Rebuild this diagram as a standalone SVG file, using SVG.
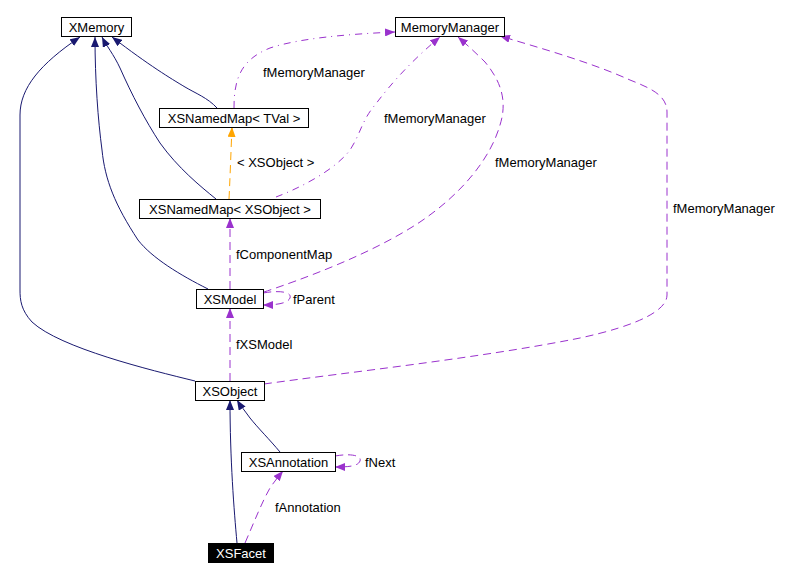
<svg xmlns="http://www.w3.org/2000/svg" width="788" height="580" viewBox="0 0 788 580">
<defs>
<style>
.node rect{fill:#fff;stroke:#000;stroke-width:1}
.node text{font-family:"Liberation Sans",Arial,sans-serif;font-size:13px;fill:#000;text-anchor:middle}
.lbl{font-family:"Liberation Sans",Arial,sans-serif;font-size:13px;fill:#000}
.inh{fill:none;stroke:#191970;stroke-width:1}
.use{fill:none;stroke:#9a32cd;stroke-width:1;stroke-dasharray:8,5}
.usec{fill:none;stroke:#9a32cd;stroke-width:1;stroke-dasharray:7,5,1,5}
.tpl{fill:none;stroke:#ffa500;stroke-width:1;stroke-dasharray:8,5}
</style>
<marker id="aN" viewBox="0 0 10 8" refX="10" refY="4" markerWidth="10" markerHeight="8" markerUnits="userSpaceOnUse" orient="auto"><path d="M0,0L10,4L0,8z" fill="#191970"/></marker>
<marker id="aP" viewBox="0 0 10 8" refX="10" refY="4" markerWidth="10" markerHeight="8" markerUnits="userSpaceOnUse" orient="auto"><path d="M0,0L10,4L0,8z" fill="#9a32cd"/></marker>
<marker id="aO" viewBox="0 0 10 8" refX="10" refY="4" markerWidth="10" markerHeight="8" markerUnits="userSpaceOnUse" orient="auto"><path d="M0,0L10,4L0,8z" fill="#ffa500"/></marker>
</defs>
<rect width="788" height="580" fill="#fff"/>
<g id="connectors">
<path class="inh" marker-end="url(#aN)" d="M195,381 C150,370 60,348 32,322 C21,310 20,300 20,290 L20,115 C20,88 40,64 80,37"/>
<path class="inh" marker-end="url(#aN)" d="M208,289 C180,275 152,258 138,240 C115,205 105,180 102,150 C98,120 95,80 95,37"/>
<path class="inh" marker-end="url(#aN)" d="M216,199 C200,186 178,168 160,143 C145,120 132,95 120,68 C114,55 106,45 102,37"/>
<path class="inh" marker-end="url(#aN)" d="M217,108 C208,98 195,93 185,87 C170,78 150,66 112,37"/>
<path class="inh" marker-end="url(#aN)" d="M237,543 C234,510 230,460 230,400"/>
<path class="inh" marker-end="url(#aN)" d="M280,452 C270,440 258,428 250,418 C245,411 240,405 237,400"/>
<path class="tpl" marker-end="url(#aO)" d="M229,199 C230,180 231,150 232,127"/>
<path class="use" marker-end="url(#aP)" d="M230,289 L230,218"/>
<path class="use" marker-end="url(#aP)" d="M230,381 L230,308"/>
<path class="use" marker-end="url(#aP)" d="M245,543 C255,520 262,502 270,488 C274,482 278,477 283,471"/>
<path class="use" marker-end="url(#aP)" d="M263,293 C280,290 292,292 290,298 C288,303 278,305 263,305"/>
<path class="use" marker-end="url(#aP)" d="M335,456 C352,453 362,456 360,461 C358,466 350,467 335,467"/>
<path class="usec" marker-end="url(#aP)" d="M234,108 C234,80 240,60 270,48 C300,38 350,34 395,32"/>
<path class="usec" marker-end="url(#aP)" d="M276,197 C300,188 335,170 350,150 C360,135 362,120 375,105 C390,85 410,62 440,37"/>
<path class="use" marker-end="url(#aP)" d="M264,292 C300,280 370,255 420,222 C460,195 490,160 500,125 C508,100 500,80 485,62 C475,52 466,44 458,37"/>
<path class="use" marker-end="url(#aP)" d="M264,384 C350,372 480,358 580,338 C640,325 667,310 667,295 L667,112 C667,95 650,88 630,80 C590,62 540,48 500,36"/>
<text class="lbl" x="263" y="77">fMemoryManager</text>
<text class="lbl" x="384" y="123">fMemoryManager</text>
<text class="lbl" x="495" y="167">fMemoryManager</text>
<text class="lbl" x="673" y="213">fMemoryManager</text>
<text class="lbl" x="237" y="167">&lt; XSObject &gt;</text>
<text class="lbl" x="236" y="259">fComponentMap</text>
<text class="lbl" x="293" y="304">fParent</text>
<text class="lbl" x="236" y="349">fXSModel</text>
<text class="lbl" x="365" y="467">fNext</text>
<text class="lbl" x="275" y="512">fAnnotation</text>
</g>
<g id="XMemory" class="node"><rect x="61.5" y="17.5" width="70" height="19"/><text x="96.5" y="32">XMemory</text></g>
<g id="MemoryManager" class="node"><rect x="395.5" y="17.5" width="109" height="19"/><text x="450" y="32">MemoryManager</text></g>
<g id="XSNamedMapTVal" class="node"><rect x="159.5" y="108.5" width="149" height="19"/><text x="234" y="123">XSNamedMap&lt; TVal &gt;</text></g>
<g id="XSNamedMapXSObject" class="node"><rect x="139.5" y="199.5" width="181" height="19"/><text x="230" y="214">XSNamedMap&lt; XSObject &gt;</text></g>
<g id="XSModel" class="node"><rect x="196.5" y="289.5" width="67" height="19"/><text x="230" y="304">XSModel</text></g>
<g id="XSObject" class="node"><rect x="195.5" y="381.5" width="69" height="19"/><text x="230" y="396">XSObject</text></g>
<g id="XSAnnotation" class="node"><rect x="241.5" y="452.5" width="94" height="19"/><text x="288.5" y="467">XSAnnotation</text></g>
<g id="XSFacet" class="node"><rect x="208.5" y="543.5" width="65" height="19" style="fill:#000"/><text x="241" y="558" style="fill:#fff">XSFacet</text></g>
</svg>
